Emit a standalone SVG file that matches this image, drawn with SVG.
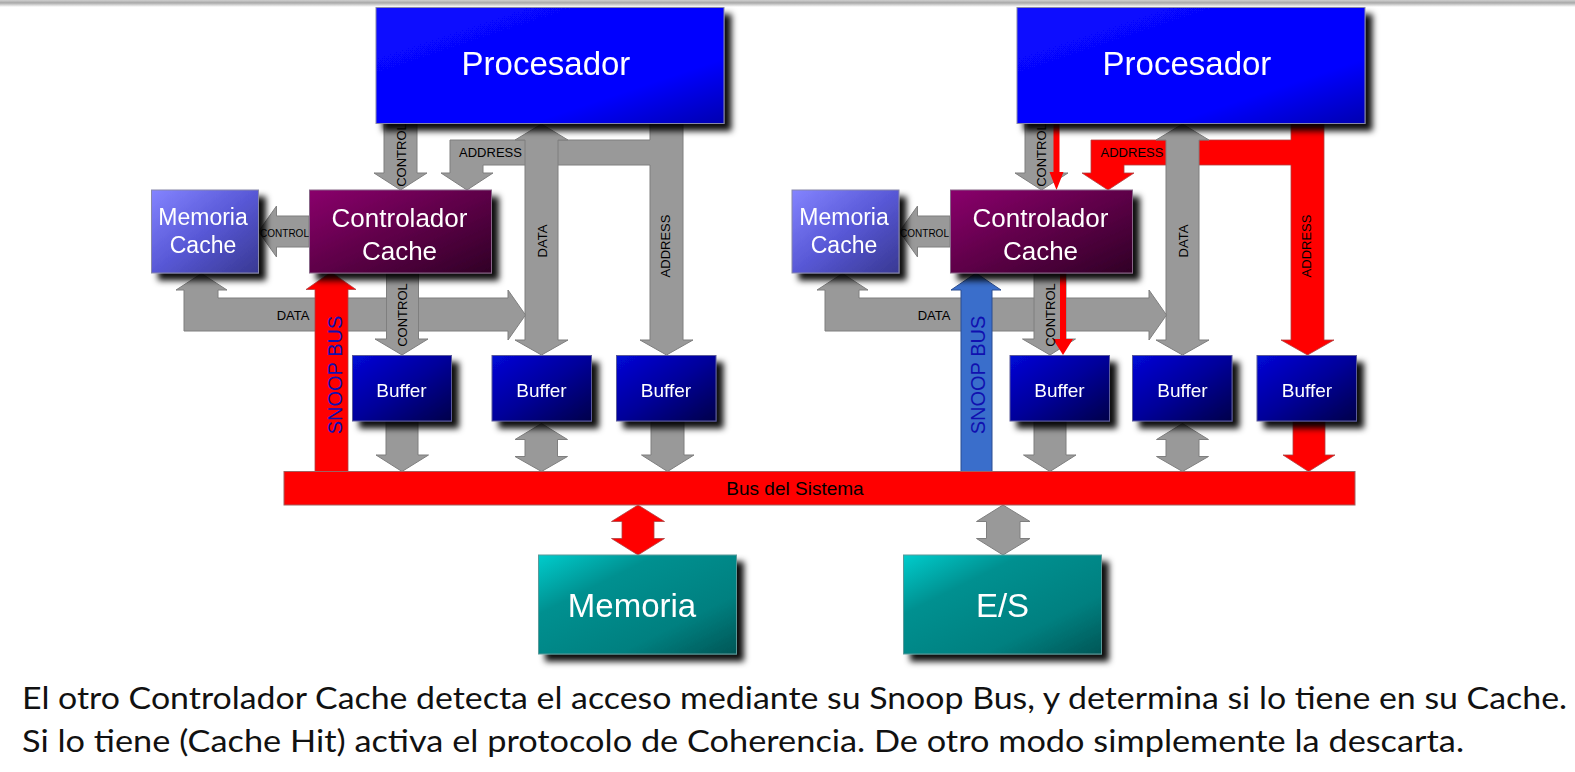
<svg xmlns="http://www.w3.org/2000/svg" width="1575" height="772" viewBox="0 0 1575 772">
<defs>
<style>
.lbl{font-family:"Liberation Sans",Arial,sans-serif;font-size:13px;fill:#000}
.ntx{font-family:"Liberation Sans",Arial,sans-serif;fill:#fff;text-anchor:middle}
.g{fill:#999;stroke:#7f7f7f;stroke-width:1}
.r{fill:#f00;stroke:#b04040;stroke-width:0.8}
.rl{fill:#f00;stroke:none}
.snoop{font-family:"Liberation Sans",Arial,sans-serif;font-size:20px;fill:#1010b0;text-anchor:middle}
.cap{font-family:Lato,"Open Sans",sans-serif;font-size:30px;fill:#111}
</style>
<linearGradient id="topband" x1="0" y1="0" x2="0" y2="1">
<stop offset="0" stop-color="#cfcfcf"/><stop offset="0.4" stop-color="#a9a9a9"/><stop offset="1" stop-color="#ffffff"/>
</linearGradient>
<linearGradient id="gProc" x1="0" y1="0" x2="1" y2="1">
<stop offset="0" stop-color="#0a0aff"/><stop offset="0.72" stop-color="#0000ff"/><stop offset="1" stop-color="#0000b0"/>
</linearGradient>
<linearGradient id="gCtl" x1="0" y1="0" x2="1" y2="1">
<stop offset="0" stop-color="#8a006c"/><stop offset="0.5" stop-color="#5e0048"/><stop offset="1" stop-color="#300026"/>
</linearGradient>
<linearGradient id="gMc" x1="0" y1="0" x2="1" y2="1">
<stop offset="0" stop-color="#8484ff"/><stop offset="0.5" stop-color="#5858d6"/><stop offset="1" stop-color="#383892"/>
</linearGradient>
<linearGradient id="gBuf" x1="0" y1="0" x2="1" y2="1">
<stop offset="0" stop-color="#0008d8"/><stop offset="0.5" stop-color="#00009a"/><stop offset="1" stop-color="#00004a"/>
</linearGradient>
<linearGradient id="gTeal" x1="0" y1="0" x2="1" y2="1">
<stop offset="0" stop-color="#00cccc"/><stop offset="0.3" stop-color="#009090"/><stop offset="0.7" stop-color="#008080"/><stop offset="1" stop-color="#005656"/>
</linearGradient>
<filter id="sh" x="-10%" y="-10%" width="130%" height="140%">
<feDropShadow dx="7" dy="7" stdDeviation="3" flood-color="#000" flood-opacity="0.95"/>
</filter>
</defs>
<rect x="0" y="0" width="1575" height="772" fill="#fff"/>
<rect x="0" y="0" width="1575" height="7" fill="url(#topband)"/>

<g id="connectors">
<!-- Left side -->
<polygon class="g" points="650,123 683,123 683,340 693,340 666.5,355 640,340 650,340 650,165 483,165 483,173 493,173 467,190 441,173 450,173 450,140 650,140"/>
<polygon class="g" points="541.5,124 568,140 558,140 558,340 568,340 541.5,355 515,340 525,340 525,140 515,140"/>
<polygon class="g" points="201.5,273.5 227,290 218,290 218,298 508,298 508,290 525.5,315 508,340 508,331 184,331 184,290 176,290"/>
<polygon class="g" points="386.5,273 418.5,273 418.5,339 428,339 402,355 375,339 386.5,339"/>
<polygon class="g" points="384,123 417,123 417,173 427,173 400.5,190 374,173 384,173"/>
<polygon class="g" points="309,216 276.5,216 276.5,206 258.5,231.5 276.5,257 276.5,247 309,247"/>
<polygon class="r" points="315,471.5 315,289.5 306,289.5 331,272 356,289.5 348,289.5 348,471.5"/>
<polygon class="g" points="386,421 418,421 418,455 428.5,455 402,471.5 376,455 386,455"/>
<polygon class="g" points="541.5,423.5 567.5,439.5 557.5,439.5 557.5,456.5 567.5,456.5 541.5,471.5 515,456.5 525,456.5 525,439.5 515,439.5"/>
<polygon class="g" points="651,421 684,421 684,455 694,455 667.5,471.5 641.5,455 651,455"/>
<!-- Right side -->
<polygon class="r" points="1291,123 1324,123 1324,340 1334,340 1307.5,355 1281,340 1291,340 1291,165 1124,165 1124,173 1134,173 1108,190 1082,173 1091,173 1091,140 1291,140"/>
<polygon class="g" points="1182.5,124 1209,140 1199,140 1199,340 1209,340 1182.5,355 1156,340 1166,340 1166,140 1156,140"/>
<polygon class="g" points="842.5,273.5 868,290 859,290 859,298 1149,298 1149,290 1166.5,315 1149,340 1149,331 825,331 825,290 817,290"/>
<polygon class="g" points="1034,273 1066,273 1066,339 1075.5,339 1050,355 1022.5,339 1034,339"/>
<polygon class="rl" points="1060,273 1066,273 1066,339 1073,339 1063,355 1053,339 1060,339"/>
<polygon class="g" points="1025,123 1058,123 1058,173 1068,173 1041.5,190 1015,173 1025,173"/>
<polygon class="rl" points="1053.5,123 1059.5,123 1059.5,172 1063.5,172 1056.5,190 1049.5,172 1053.5,172"/>
<polygon class="g" points="950,216 917.5,216 917.5,206 899.5,231.5 917.5,257 917.5,247 950,247"/>
<polygon fill="#3a6ecb" stroke="#2a4c90" stroke-width="1" points="961,471.5 961,290 951,290 976,273 1001,290 992,290 992,471.5"/>
<polygon class="g" points="1034,421 1066,421 1066,455 1076,455 1050,471.5 1023.5,455 1034,455"/>
<polygon class="g" points="1182.5,423.5 1208.5,439.5 1199,439.5 1199,456.5 1208.5,456.5 1182.5,471.5 1156.5,456.5 1166,456.5 1166,439.5 1156.5,439.5"/>
<polygon class="r" points="1293,421 1325,421 1325,455 1335,455 1308.5,471.5 1283,455 1293,455"/>
<!-- Bus to memory / IO -->
<polygon class="r" points="638,505 664.5,521.5 654,521.5 654,538.5 664.5,538.5 638,555 611.5,538.5 622,538.5 622,521.5 611.5,521.5"/>
<polygon class="g" points="1003,505 1030,521.5 1020,521.5 1020,538.5 1030,538.5 1003,555 976.5,538.5 986.5,538.5 986.5,521.5 976.5,521.5"/>
<!-- labels -->
<text class="lbl" transform="translate(406,155) rotate(-90)" text-anchor="middle">CONTROL</text>
<text class="lbl" transform="translate(407,315) rotate(-90)" text-anchor="middle">CONTROL</text>
<text class="lbl" transform="translate(546.5,241) rotate(-90)" text-anchor="middle">DATA</text>
<text class="lbl" transform="translate(670.3,246) rotate(-90)" text-anchor="middle">ADDRESS</text>
<text class="lbl" x="490.5" y="156.5" text-anchor="middle">ADDRESS</text>
<text class="lbl" x="293" y="320" text-anchor="middle">DATA</text>
<text class="lbl" x="284.5" y="236.5" text-anchor="middle" style="font-size:10px">CONTROL</text>
<text class="snoop" transform="translate(342,375) rotate(-90)">SNOOP BUS</text>
<text class="lbl" transform="translate(1046.3,155) rotate(-90)" text-anchor="middle">CONTROL</text>
<text class="lbl" transform="translate(1055.3,315) rotate(-90)" text-anchor="middle">CONTROL</text>
<text class="lbl" transform="translate(1187.5,241) rotate(-90)" text-anchor="middle">DATA</text>
<text class="lbl" transform="translate(1311.3,246) rotate(-90)" text-anchor="middle">ADDRESS</text>
<text class="lbl" x="1132" y="156.5" text-anchor="middle">ADDRESS</text>
<text class="lbl" x="934" y="320" text-anchor="middle">DATA</text>
<text class="lbl" x="924.5" y="236.5" text-anchor="middle" style="font-size:10px">CONTROL</text>
<text class="snoop" transform="translate(985,375) rotate(-90)">SNOOP BUS</text>
</g>

<g id="bus">
<rect x="284" y="471.5" width="1071" height="33.5" fill="#f00" stroke="#a06060" stroke-width="1"/>
<text x="795" y="494.5" text-anchor="middle" style="font-family:'Liberation Sans',Arial,sans-serif;font-size:19px;fill:#000">Bus del Sistema</text>
</g>

<g id="proc1" filter="url(#sh)">
<rect x="376" y="7.5" width="348" height="116" fill="url(#gProc)" stroke="#8888aa" stroke-width="1"/>
<text class="ntx" x="546" y="75" font-size="33">Procesador</text>
</g>
<g id="proc2" filter="url(#sh)">
<rect x="1017" y="7.5" width="348" height="116" fill="url(#gProc)" stroke="#8888aa" stroke-width="1"/>
<text class="ntx" x="1187" y="75" font-size="33">Procesador</text>
</g>

<g id="memcache1" filter="url(#sh)">
<rect x="151.5" y="190" width="107" height="83" fill="url(#gMc)" stroke="#8888aa" stroke-width="1"/>
<text class="ntx" x="203" y="225" font-size="23">Memoria</text>
<text class="ntx" x="203" y="253" font-size="23">Cache</text>
</g>
<g id="memcache2" filter="url(#sh)">
<rect x="792" y="190" width="107" height="83" fill="url(#gMc)" stroke="#8888aa" stroke-width="1"/>
<text class="ntx" x="844" y="225" font-size="23">Memoria</text>
<text class="ntx" x="844" y="253" font-size="23">Cache</text>
</g>

<g id="ctl1" filter="url(#sh)">
<rect x="309.5" y="190" width="182" height="83" fill="url(#gCtl)" stroke="#886688" stroke-width="1"/>
<text class="ntx" x="399.5" y="227" font-size="26">Controlador</text>
<text class="ntx" x="399.5" y="260" font-size="26">Cache</text>
</g>
<g id="ctl2" filter="url(#sh)">
<rect x="950.5" y="190" width="182" height="83" fill="url(#gCtl)" stroke="#886688" stroke-width="1"/>
<text class="ntx" x="1040.5" y="227" font-size="26">Controlador</text>
<text class="ntx" x="1040.5" y="260" font-size="26">Cache</text>
</g>

<g id="buf1" filter="url(#sh)">
<rect x="352.5" y="355.5" width="99" height="65.5" fill="url(#gBuf)" stroke="#5a5a9a" stroke-width="1"/>
<text class="ntx" x="401.5" y="397" font-size="19">Buffer</text>
</g>
<g id="buf2" filter="url(#sh)">
<rect x="492" y="355.5" width="99.5" height="65.5" fill="url(#gBuf)" stroke="#5a5a9a" stroke-width="1"/>
<text class="ntx" x="541.5" y="397" font-size="19">Buffer</text>
</g>
<g id="buf3" filter="url(#sh)">
<rect x="616.5" y="355.5" width="99.5" height="65.5" fill="url(#gBuf)" stroke="#5a5a9a" stroke-width="1"/>
<text class="ntx" x="666" y="397" font-size="19">Buffer</text>
</g>
<g id="buf4" filter="url(#sh)">
<rect x="1010" y="355.5" width="99.5" height="65.5" fill="url(#gBuf)" stroke="#5a5a9a" stroke-width="1"/>
<text class="ntx" x="1059.5" y="397" font-size="19">Buffer</text>
</g>
<g id="buf5" filter="url(#sh)">
<rect x="1132.5" y="355.5" width="99.5" height="65.5" fill="url(#gBuf)" stroke="#5a5a9a" stroke-width="1"/>
<text class="ntx" x="1182.5" y="397" font-size="19">Buffer</text>
</g>
<g id="buf6" filter="url(#sh)">
<rect x="1257" y="355.5" width="99.5" height="65.5" fill="url(#gBuf)" stroke="#5a5a9a" stroke-width="1"/>
<text class="ntx" x="1307" y="397" font-size="19">Buffer</text>
</g>

<g id="memoria" filter="url(#sh)">
<rect x="538.5" y="555" width="198" height="99" fill="url(#gTeal)" stroke="#5a9a9a" stroke-width="1"/>
<text class="ntx" x="632" y="617" font-size="33">Memoria</text>
</g>
<g id="es" filter="url(#sh)">
<rect x="903.5" y="555" width="198" height="99" fill="url(#gTeal)" stroke="#5a9a9a" stroke-width="1"/>
<text class="ntx" x="1002.5" y="617" font-size="33">E/S</text>
</g>

<g id="caption">
<text class="cap" x="22" y="709" textLength="1545" lengthAdjust="spacingAndGlyphs">El otro Controlador Cache detecta el acceso mediante su Snoop Bus, y determina si lo tiene en su Cache.</text>
<text class="cap" x="22" y="752" textLength="1442" lengthAdjust="spacingAndGlyphs">Si lo tiene (Cache Hit) activa el protocolo de Coherencia. De otro modo simplemente la descarta.</text>
</g>
</svg>
